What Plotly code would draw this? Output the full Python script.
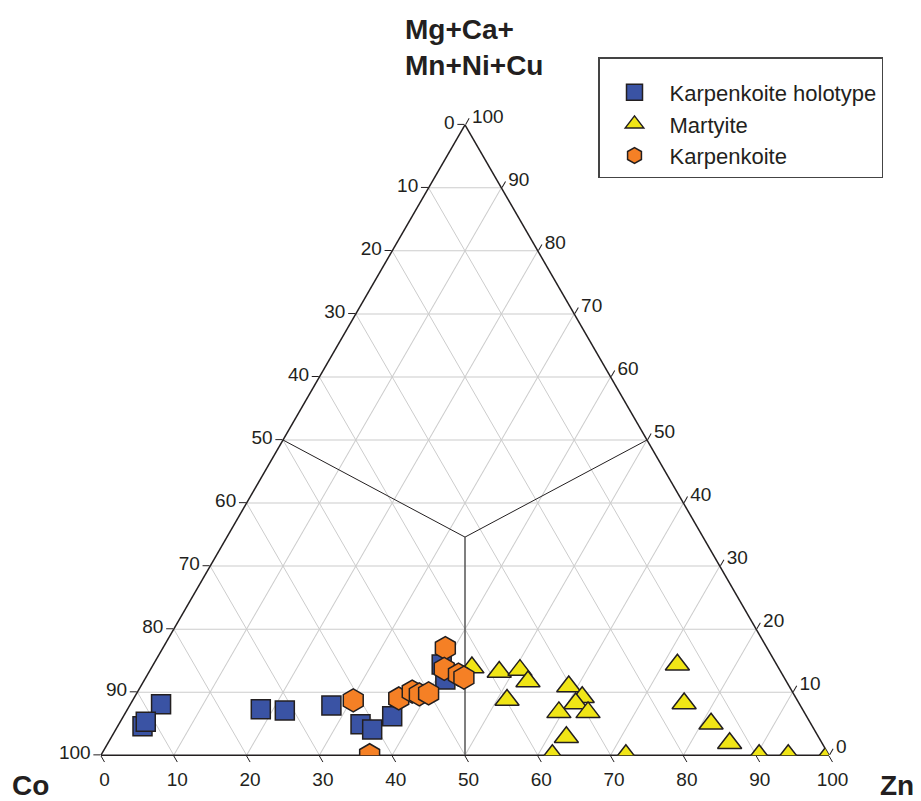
import plotly.graph_objects as go

# Ternary components (percent): a = Mg+Ca+Mn+Ni+Cu, b = Co, c = Zn
holo_a = [8.1, 4.6, 5.3, 7.3, 7.1, 7.9, 4.9, 4.1, 6.2, 14.4, 12.0]
holo_c = [4.2, 3.4, 3.5, 18.3, 21.7, 27.7, 33.2, 35.2, 36.9, 39.6, 41.3]

mart_a = [13.9, 13.2, 13.5, 11.7, 8.75, 10.9, 9.2, 8.2, 6.8, 6.8, 2.85, 0.0, 0.0,
          14.35, 8.2, 5.0, 1.9, 0.0, 0.0, 0.0]
mart_c = [44.0, 48.1, 50.8, 52.8, 51.4, 58.8, 61.5, 61.1, 59.5, 63.5, 62.5, 62.0, 72.1,
          72.0, 76.0, 81.3, 85.4, 90.4, 94.4, 99.8]

karp_a = [8.7, 0.0, 9.0, 10.1, 9.65, 9.8, 17.0, 13.7, 12.8, 12.3]
karp_c = [30.3, 36.9, 36.4, 37.7, 38.9, 40.1, 38.8, 40.3, 42.7, 43.7]

# field-division lines (meet near the centre)
div_a = [50.0, 34.6, 50.0]
div_b = [50.0, 32.7, 0.0]
div_c = [0.0, 32.7, 50.0]
vert_a = [34.6, 0.0]
vert_b = [32.7, 50.0]
vert_c = [32.7, 50.0]

tick_vals = list(range(0, 101, 10))
tick_text = [str(100 - v) for v in tick_vals]

series_names = ["Karpenkoite holotype", "Martyite", "Karpenkoite"]
title_top = "<b>Mg+Ca+<br>Mn+Ni+Cu</b>"
title_left = "<b>Co</b>"
title_right = "<b>Zn</b>"

FONT = "Liberation Sans, Arial, sans-serif"
TXT = "#231f20"


def b_of(a_list, c_list):
    return [round(100 - a - c, 2) for a, c in zip(a_list, c_list)]


fig = go.Figure()

fig.add_trace(go.Scatterternary(
    a=div_a, b=div_b, c=div_c, mode="lines",
    line=dict(color="#231f20", width=1), showlegend=False, hoverinfo="skip"))
fig.add_trace(go.Scatterternary(
    a=vert_a, b=vert_b, c=vert_c, mode="lines",
    line=dict(color="#555555", width=1.5), showlegend=False, hoverinfo="skip"))

fig.add_trace(go.Scatterternary(
    a=holo_a, b=b_of(holo_a, holo_c), c=holo_c, mode="markers",
    name=series_names[0], legendgroup="g1",
    marker=dict(symbol="square", size=19, color="#3a53a4",
                line=dict(color="#231f20", width=1.5))))
fig.add_trace(go.Scatterternary(
    a=mart_a, b=b_of(mart_a, mart_c), c=mart_c, mode="markers",
    name=series_names[1], legendgroup="g2",
    marker=dict(symbol="triangle-up", size=21, color="#f0e516",
                line=dict(color="#231f20", width=1.5))))
fig.add_trace(go.Scatterternary(
    a=karp_a, b=b_of(karp_a, karp_c), c=karp_c, mode="markers",
    name=series_names[2], legendgroup="g3",
    marker=dict(symbol="hexagon", size=23, color="#f58025",
                line=dict(color="#231f20", width=1.5))))

axis_common = dict(
    tickmode="array", tickvals=tick_vals, ticktext=tick_text,
    ticks="outside", ticklen=7, tickwidth=1.2, tickcolor=TXT,
    tickfont=dict(family=FONT, size=19, color=TXT),
    showline=True, linecolor=TXT, linewidth=1.5,
    showgrid=True, gridcolor="#cccccc", gridwidth=1,
    layer="below traces", min=0, title=dict(text=""),
)

title_font = dict(family=FONT, size=28, color=TXT)

fig.update_layout(
    width=921, height=801,
    margin=dict(l=93, r=100, t=116, b=53),
    paper_bgcolor="white",
    font=dict(family=FONT, color=TXT),
    showlegend=True,
    ternary=dict(
        sum=100,
        bgcolor="white",
        domain=dict(x=[0, 1], y=[0, 1]),
        aaxis=axis_common,
        baxis=axis_common,
        caxis=axis_common,
    ),
    annotations=[
        dict(text=title_top, xref="paper", yref="paper", x=0.5124, y=1.065,
             xanchor="center", yanchor="bottom", showarrow=False, font=title_font,
             align="left"),
        dict(text=title_left, xref="paper", yref="paper", x=-0.0975, y=-0.047,
             xanchor="center", yanchor="middle", showarrow=False, font=title_font),
        dict(text=title_right, xref="paper", yref="paper", x=1.093, y=-0.047,
             xanchor="center", yanchor="middle", showarrow=False, font=title_font),
    ],
    legend=dict(
        x=0.6827, y=1.106, xanchor="left", yanchor="top",
        bordercolor="#444444", borderwidth=1.5, bgcolor="white",
        font=dict(family=FONT, size=22, color=TXT),
        title=dict(text=" ", font=dict(size=10)),
        traceorder="grouped", tracegroupgap=0,
        itemsizing="trace", itemwidth=60,
    ),
)

fig.write_html("out.html")
